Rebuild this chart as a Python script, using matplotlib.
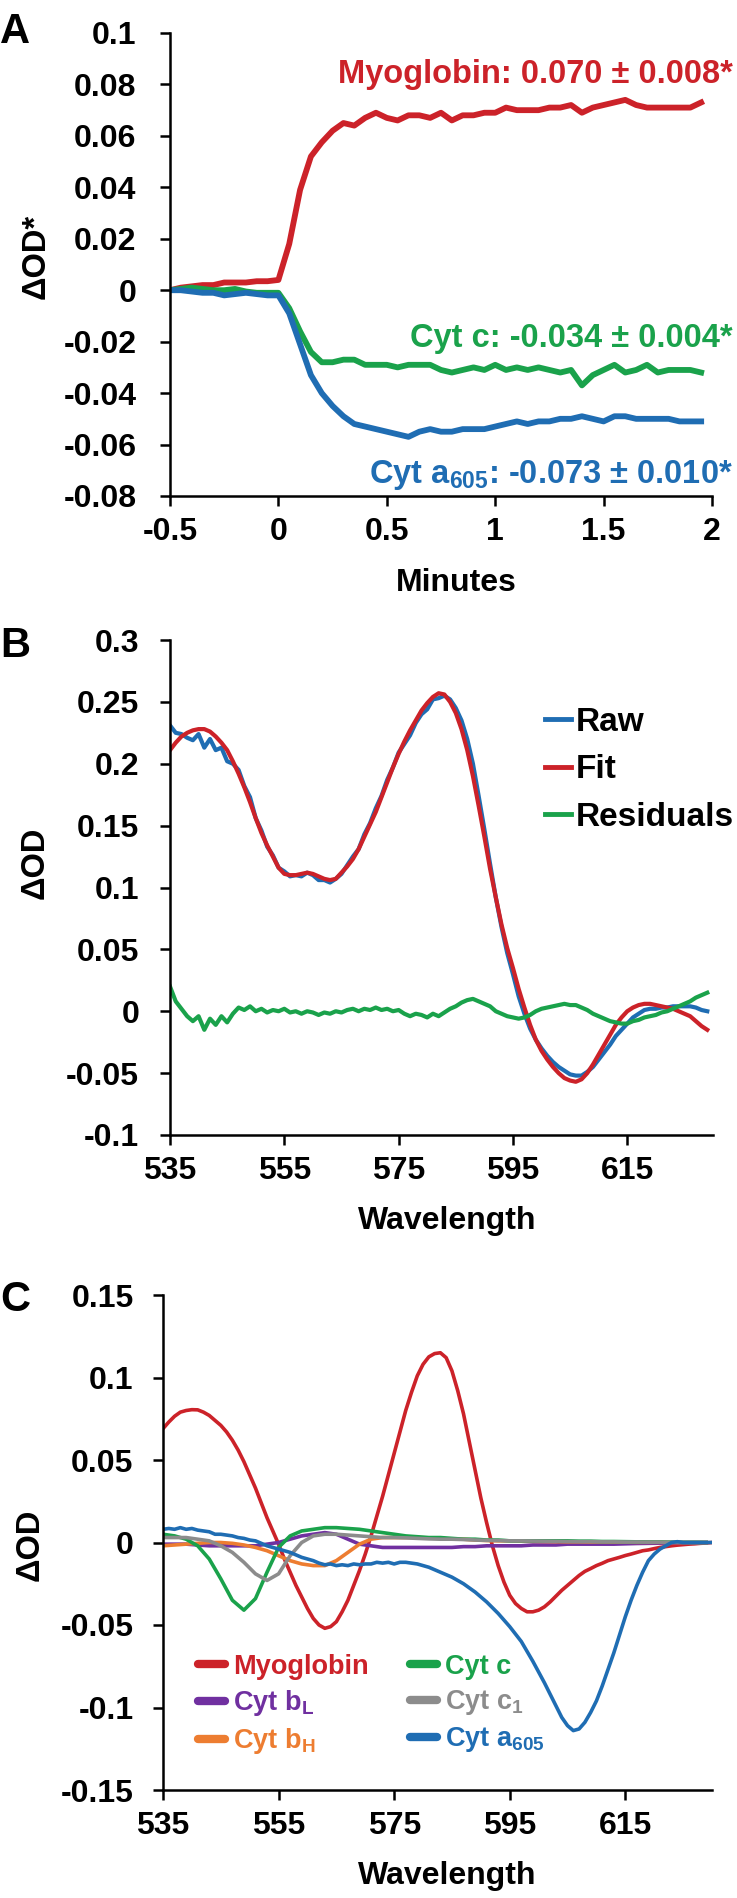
import numpy as np
import matplotlib
matplotlib.use('Agg')
import matplotlib.pyplot as plt

plt.rcParams['font.family'] = ['Liberation Sans', 'DejaVu Sans']
plt.rcParams['font.weight'] = 'bold'
plt.rcParams['axes.unicode_minus'] = False
plt.rcParams['mathtext.fontset'] = 'custom'
plt.rcParams['mathtext.rm'] = 'Liberation Sans:bold'
plt.rcParams['mathtext.default'] = 'rm'

RED = '#cc2229'
GREEN = '#1aa24b'
BLUE = '#1f6db3'
PURPLE = '#7030a0'
ORANGE = '#ed7d31'
GRAY = '#8c8c8c'

# ---- panel A: time course (minutes) ----
minutes = np.round(np.arange(-50, 196, 5) / 100, 2)
myoglobin_t = [0.000, 0.001, 0.0015, 0.002, 0.002, 0.003, 0.003, 0.003, 0.0035, 0.0035,
               0.004, 0.018, 0.039, 0.052, 0.0575, 0.062, 0.065, 0.064, 0.067, 0.069,
               0.067, 0.066, 0.068, 0.068, 0.067, 0.069, 0.066, 0.068, 0.068, 0.069,
               0.069, 0.071, 0.070, 0.070, 0.070, 0.071, 0.071, 0.072, 0.069, 0.071,
               0.072, 0.073, 0.074, 0.072, 0.071, 0.071, 0.071, 0.071, 0.071, 0.073]
cytc_t = [0.000, 0.0005, 0.001, 0.0005, 0.000, 0.000, 0.0005, -0.0005, -0.001, -0.001,
          -0.001, -0.007, -0.016, -0.024, -0.028, -0.028, -0.027, -0.027, -0.029, -0.029,
          -0.029, -0.030, -0.029, -0.029, -0.029, -0.031, -0.032, -0.031, -0.030, -0.031,
          -0.029, -0.031, -0.030, -0.031, -0.030, -0.031, -0.032, -0.031, -0.037, -0.033,
          -0.031, -0.029, -0.032, -0.031, -0.029, -0.032, -0.031, -0.031, -0.031, -0.032]
cyta_t = [0.000, 0.000, -0.0005, -0.001, -0.001, -0.002, -0.0015, -0.001, -0.0015, -0.002,
          -0.002, -0.009, -0.021, -0.033, -0.040, -0.045, -0.049, -0.052, -0.053, -0.054,
          -0.055, -0.056, -0.057, -0.055, -0.054, -0.055, -0.055, -0.054, -0.054, -0.054,
          -0.053, -0.052, -0.051, -0.052, -0.051, -0.051, -0.050, -0.050, -0.049, -0.050,
          -0.051, -0.049, -0.049, -0.050, -0.050, -0.050, -0.050, -0.051, -0.051, -0.051]
a_yticks = [0.1, 0.08, 0.06, 0.04, 0.02, 0, -0.02, -0.04, -0.06, -0.08]
a_yticklabels = ['0.1', '0.08', '0.06', '0.04', '0.02', '0', '-0.02', '-0.04', '-0.06', '-0.08']
a_xticks = [-0.5, 0, 0.5, 1, 1.5, 2]
a_xticklabels = ['-0.5', '0', '0.5', '1', '1.5', '2']

# ---- panel B: spectrum fit ----
wl_b = np.arange(535, 630)
fit_b = [0.211, 0.217, 0.222, 0.225, 0.227, 0.228, 0.228, 0.226, 0.222, 0.217,
         0.211, 0.202, 0.192, 0.181, 0.169, 0.156, 0.144, 0.134, 0.125, 0.116,
         0.111, 0.110, 0.110, 0.111, 0.112, 0.111, 0.109, 0.107, 0.106, 0.107,
         0.112, 0.117, 0.123, 0.131, 0.141, 0.151, 0.161, 0.173, 0.185, 0.197,
         0.208, 0.218, 0.227, 0.235, 0.243, 0.249, 0.254, 0.257, 0.256, 0.250,
         0.241, 0.228, 0.211, 0.190, 0.166, 0.141, 0.115, 0.092, 0.070, 0.051,
         0.035, 0.018, 0.003, -0.011, -0.023, -0.032, -0.039, -0.045, -0.050, -0.054,
         -0.056, -0.057, -0.055, -0.050, -0.043, -0.035, -0.027, -0.019, -0.011, -0.005,
         0.000, 0.003, 0.005, 0.006, 0.006, 0.005, 0.004, 0.003, 0.002, 0.000,
         -0.002, -0.004, -0.008, -0.012, -0.015]
resid_b = [0.020, 0.008, 0.002, -0.004, -0.008, -0.004, -0.015, -0.006, -0.011, -0.004,
           -0.009, -0.002, 0.003, 0.001, 0.004, 0.000, 0.002, -0.001, 0.001, 0.000,
           0.002, -0.001, 0.000, -0.002, 0.000, -0.001, -0.003, -0.001, -0.002, 0.000,
           -0.001, 0.001, 0.002, 0.000, 0.002, 0.001, 0.003, 0.001, 0.002, 0.000,
           0.001, -0.002, -0.004, -0.002, -0.003, -0.005, -0.002, -0.004, -0.001, 0.002,
           0.004, 0.007, 0.009, 0.010, 0.008, 0.006, 0.004, 0.000, -0.002, -0.004,
           -0.005, -0.006, -0.005, -0.003, 0.000, 0.002, 0.003, 0.004, 0.005, 0.006,
           0.005, 0.005, 0.003, 0.001, -0.002, -0.004, -0.006, -0.008, -0.009, -0.010,
           -0.010, -0.008, -0.007, -0.005, -0.004, -0.003, -0.001, 0.000, 0.002, 0.004,
           0.006, 0.008, 0.011, 0.013, 0.015]
raw_b = np.array(fit_b) + np.array(resid_b)
b_yticks = [0.3, 0.25, 0.2, 0.15, 0.1, 0.05, 0, -0.05, -0.1]
b_yticklabels = ['0.3', '0.25', '0.2', '0.15', '0.1', '0.05', '0', '-0.05', '-0.1']
wl_ticks = [535, 555, 575, 595, 615]

# ---- panel C: component spectra ----
wl_c1 = np.arange(535, 631)      # 1 nm grid for the two big components
myoglobin_c = [0.069, 0.073, 0.0765, 0.079, 0.080, 0.0805, 0.0804, 0.079, 0.077, 0.074,
               0.071, 0.067, 0.062, 0.056, 0.049, 0.041, 0.033, 0.024, 0.015, 0.007,
               -0.001, -0.010, -0.018, -0.026, -0.033, -0.040, -0.046, -0.050, -0.052, -0.051,
               -0.048, -0.042, -0.035, -0.026, -0.017, -0.007, 0.004, 0.016, 0.028, 0.041,
               0.054, 0.067, 0.080, 0.091, 0.101, 0.108, 0.1125, 0.1145, 0.115, 0.112,
               0.104, 0.092, 0.078, 0.061, 0.044, 0.027, 0.012, -0.002, -0.014, -0.024,
               -0.032, -0.037, -0.040, -0.042, -0.042, -0.041, -0.039, -0.036, -0.0325, -0.029,
               -0.026, -0.023, -0.020, -0.0175, -0.0158, -0.014, -0.0126, -0.011, -0.010, -0.009,
               -0.0079, -0.007, -0.006, -0.005, -0.0045, -0.0037, -0.003, -0.0025, -0.002, -0.0016,
               -0.0013, -0.001, -0.0008, -0.0005, -0.0003, 0.0]
cyta_c = [0.008, 0.0085, 0.008, 0.009, 0.008, 0.0085, 0.0075, 0.007, 0.0065, 0.005,
          0.005, 0.0045, 0.004, 0.003, 0.0025, 0.0015, 0.001, -0.0005, -0.002, -0.003,
          -0.004, -0.005, -0.006, -0.0075, -0.009, -0.010, -0.011, -0.0125, -0.0135, -0.013,
          -0.014, -0.0135, -0.014, -0.013, -0.0135, -0.013, -0.013, -0.012, -0.0125, -0.012,
          -0.013, -0.012, -0.012, -0.0125, -0.013, -0.014, -0.015, -0.0165, -0.018, -0.0195,
          -0.021, -0.023, -0.025, -0.0275, -0.030, -0.033, -0.036, -0.0395, -0.043, -0.047,
          -0.051, -0.0555, -0.060, -0.066, -0.072, -0.0785, -0.085, -0.092, -0.099, -0.106,
          -0.111, -0.114, -0.113, -0.109, -0.103, -0.096, -0.087, -0.077, -0.067, -0.056,
          -0.045, -0.035, -0.026, -0.018, -0.011, -0.007, -0.004, -0.002, 0.000, 0.0005,
          0.000, 0.000, 0.000, 0.000, 0.000, 0.000]
wl_c2 = np.arange(535, 631, 2)   # 2 nm grid for the small components
cytbl_c = [-0.001, -0.001, -0.001, -0.0015, -0.002, -0.002, -0.002, -0.002, -0.002, -0.001,
           0.000, 0.002, 0.004, 0.005, 0.006, 0.005, 0.002, -0.001, -0.002, -0.003,
           -0.003, -0.003, -0.003, -0.003, -0.003, -0.003, -0.0025, -0.0025, -0.002, -0.002,
           -0.002, -0.002, -0.0015, -0.0015, -0.0015, -0.001, -0.001, -0.001, -0.001, -0.001,
           -0.0008, -0.0006, -0.0005, -0.0004, -0.0003, -0.0002, -0.0001, 0.0]
cytbh_c = [-0.002, -0.0015, -0.001, -0.0005, 0.0, 0.0, -0.0005, -0.0015, -0.003, -0.005,
           -0.008, -0.011, -0.013, -0.014, -0.014, -0.011, -0.006, -0.001, 0.002, 0.003,
           0.003, 0.003, 0.003, 0.0028, 0.0025, 0.002, 0.002, 0.0015, 0.0012, 0.001,
           0.001, 0.0008, 0.0007, 0.0006, 0.0005, 0.0004, 0.0004, 0.0003, 0.0003, 0.0002,
           0.0002, 0.0001, 0.0001, 0.0001, 0.0, 0.0, 0.0, 0.0]
cytc_c = [0.005, 0.004, 0.002, -0.002, -0.010, -0.022, -0.035, -0.041, -0.034, -0.018,
          -0.003, 0.004, 0.007, 0.008, 0.009, 0.009, 0.0085, 0.008, 0.007, 0.006,
          0.005, 0.004, 0.0035, 0.003, 0.003, 0.0025, 0.002, 0.002, 0.0015, 0.0015,
          0.001, 0.001, 0.001, 0.001, 0.001, 0.001, 0.0008, 0.0008, 0.0006, 0.0006,
          0.0005, 0.0004, 0.0003, 0.0003, 0.0002, 0.0001, 0.0001, 0.0]
cytc1_c = [0.003, 0.003, 0.003, 0.002, 0.001, -0.002, -0.006, -0.012, -0.019, -0.023,
           -0.019, -0.008, 0.000, 0.004, 0.005, 0.005, 0.0045, 0.004, 0.0035, 0.003,
           0.003, 0.0028, 0.0025, 0.0022, 0.002, 0.002, 0.0018, 0.0015, 0.0013, 0.0012,
           0.001, 0.001, 0.0009, 0.0008, 0.0007, 0.0006, 0.0005, 0.0005, 0.0004, 0.0004,
           0.0003, 0.0003, 0.0002, 0.0002, 0.0001, 0.0001, 0.0, 0.0]
c_yticks = [0.15, 0.1, 0.05, 0, -0.05, -0.1, -0.15]
c_yticklabels = ['0.15', '0.1', '0.05', '0', '-0.05', '-0.1', '-0.15']

W, H = 737, 1898
fig = plt.figure(figsize=(W / 100, H / 100), dpi=100)


def px(x, y):
    return x / W, 1 - y / H


def add_axes(left, top, right, bottom):
    ax = fig.add_axes([left / W, 1 - bottom / H, (right - left) / W, (bottom - top) / H])
    for s in ['top', 'right']:
        ax.spines[s].set_visible(False)
    for s in ['left', 'bottom']:
        ax.spines[s].set_linewidth(1.8)
    ax.tick_params(direction='out', length=7.2, width=1.8, labelsize=23)
    return ax


# Panel A
axA = add_axes(170, 33, 712, 496)
axA.plot(minutes, myoglobin_t, color=RED, lw=4.2)
axA.plot(minutes, cytc_t, color=GREEN, lw=4.2)
axA.plot(minutes, cyta_t, color=BLUE, lw=4.2)
axA.set_xlim(-0.5, 2)
axA.set_ylim(-0.08, 0.1)
axA.set_yticks(a_yticks)
axA.set_yticklabels(a_yticklabels)
axA.set_xticks(a_xticks)
axA.set_xticklabels(a_xticklabels)
axA.tick_params(axis='y', pad=17)
axA.tick_params(axis='x', pad=8)

fig.text(*px(733, 83), 'Myoglobin: 0.070 ± 0.008*', color=RED, fontsize=23.5,
         ha='right', va='baseline')
fig.text(*px(733, 347), 'Cyt c: -0.034 ± 0.004*', color=GREEN, fontsize=23.5,
         ha='right', va='baseline')
fig.text(*px(733, 483), 'Cyt a$_{605}$: -0.073 ± 0.010*', color=BLUE, fontsize=23.5,
         ha='right', va='baseline')

# Panel B
axB = add_axes(170, 640, 713, 1135)
axB.plot(wl_b, raw_b, color=BLUE, lw=3, label='Raw')
axB.plot(wl_b, fit_b, color=RED, lw=3, label='Fit')
axB.plot(wl_b, resid_b, color=GREEN, lw=3, label='Residuals')
axB.set_xlim(535, 630)
axB.set_ylim(-0.1, 0.3)
axB.set_yticks(b_yticks)
axB.set_yticklabels(b_yticklabels)
axB.set_xticks(wl_ticks)
axB.tick_params(axis='y', pad=15)
axB.tick_params(axis='x', pad=8)
legB = axB.legend(loc='upper left', bbox_to_anchor=(0.69, 0.865), frameon=False,
                  fontsize=24, handlelength=0.8, handletextpad=0.12,
                  labelspacing=0.5, borderpad=0, borderaxespad=0)
for h in legB.legend_handles:
    h.set_linewidth(3.5)

# Panel C
axC = add_axes(163, 1295, 712, 1790)
series_c = [('Myoglobin', wl_c1, myoglobin_c, RED),
            ('Cyt b$_{L}$', wl_c2, cytbl_c, PURPLE),
            ('Cyt b$_{H}$', wl_c2, cytbh_c, ORANGE),
            ('Cyt c', wl_c2, cytc_c, GREEN),
            ('Cyt c$_{1}$', wl_c2, cytc1_c, GRAY),
            ('Cyt a$_{605}$', wl_c1, cyta_c, BLUE)]
for name, wl, vals, col in series_c:
    axC.plot(wl, vals, color=col, lw=2.6, label=name)
axC.set_xlim(535, 630)
axC.set_ylim(-0.15, 0.15)
axC.set_yticks(c_yticks)
axC.set_yticklabels(c_yticklabels)
axC.set_xticks(wl_ticks)
axC.tick_params(axis='y', pad=14)
axC.tick_params(axis='x', pad=8)
legC = axC.legend(loc='upper left', bbox_to_anchor=(0.064, 0.275), ncol=2, frameon=False,
                  fontsize=19.5, handlelength=1.0, handletextpad=0.3, columnspacing=1.5,
                  labelspacing=0.3, borderpad=0, borderaxespad=0, labelcolor='linecolor')
for h in legC.legend_handles:
    h.set_linewidth(6)
    h.set_solid_capstyle('round')

# axis labels and panel letters
fig.text(*px(36, 256), 'ΔOD*', fontsize=23.5, rotation=90, ha='center', va='center')
fig.text(*px(35, 863), 'ΔOD', fontsize=23.5, rotation=90, ha='center', va='center')
fig.text(*px(30, 1545), 'ΔOD', fontsize=23.5, rotation=90, ha='center', va='center')
fig.text(*px(456, 591), 'Minutes', fontsize=23, ha='center', va='baseline')
fig.text(*px(447, 1229), 'Wavelength', fontsize=23, ha='center', va='baseline')
fig.text(*px(447, 1884), 'Wavelength', fontsize=23, ha='center', va='baseline')
fig.text(*px(0, 43), 'A', fontsize=30, ha='left', va='baseline')
fig.text(*px(0, 657), 'B', fontsize=30, ha='left', va='baseline')
fig.text(*px(0, 1311), 'C', fontsize=30, ha='left', va='baseline')

fig.savefig('out.png', dpi=100)
